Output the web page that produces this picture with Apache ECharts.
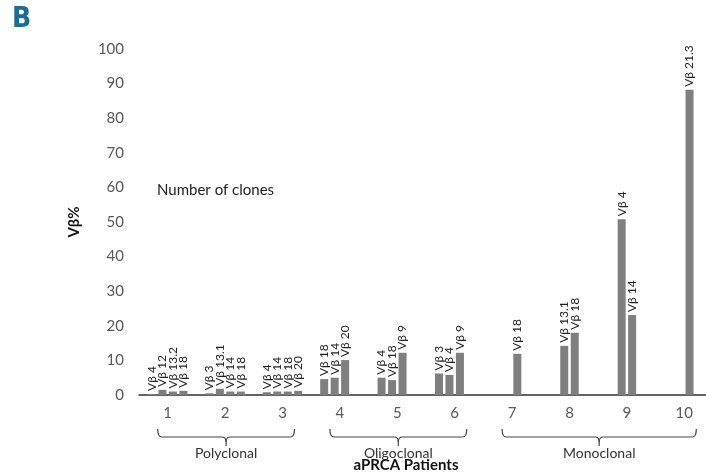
<!DOCTYPE html>
<html>
<head>
<meta charset="utf-8">
<script src="https://cdn.jsdelivr.net/npm/echarts@6/dist/echarts.min.js"></script>
<style>
html,body{margin:0;padding:0;background:#fff;}
#c{width:706px;height:473px;}
</style>
</head>
<body>
<div id="c"></div>
<script>
// Patients (categories)
const patients = ['1','2','3','4','5','6','7','8','9','10'];
// Four clustered slots per patient; null = no bar in that slot
const slot1Values = [0.3, 0.5, 0.8, 4.6, 5.0, 6.2, null, null, null, null];
const slot1Names  = ['Vβ 4','Vβ 3','Vβ 4','Vβ 18','Vβ 4','Vβ 3', null, null, null, null];
const slot2Values = [1.5, 1.8, 1.0, 5.0, 4.3, 5.8, null, 14.2, 50.8, null];
const slot2Names  = ['Vβ 12','Vβ 13.1','Vβ 14','Vβ 14','Vβ 18','Vβ 4', null, 'Vβ 13.1','Vβ 4', null];
const slot3Values = [1.0, 1.0, 1.0, 10.1, 12.2, 12.2, 11.9, 18.0, 23.1, 88.2];
const slot3Names  = ['Vβ 13.2','Vβ 14','Vβ 18','Vβ 20','Vβ 9','Vβ 9','Vβ 18','Vβ 18','Vβ 14','Vβ 21.3'];
const slot4Values = [1.2, 1.0, 1.2, null, null, null, null, null, null, null];
const slot4Names  = ['Vβ 18','Vβ 18','Vβ 20', null, null, null, null, null, null, null];
// Groups of patients
const groupNames = ['Polyclonal','Oligoclonal','Monoclonal'];
const groupFirst = [0, 3, 6];
const groupLast  = [2, 5, 9];
const yTicks = [0, 100, 10]; // min, max, interval

const FONT = 'Lato, "Open Sans", sans-serif';
const chart = echarts.init(document.getElementById('c'), null, {renderer:'canvas'});

function mkSeries(values, names){
  return {
    type:'bar',
    barWidth: 8,
    barGap: '31%',
    itemStyle:{color:'#7f7f7f'},
    data: values.map((v,i)=> v==null ? null : {value:v, name:names[i]}),
    label:{
      show:true, position:'top', rotate:90, align:'left', verticalAlign:'middle',
      distance:3, fontSize:12, fontFamily:FONT, color:'#222',
      formatter: p => p.data && p.data.name ? p.data.name : ''
    },
    animation:false
  };
}

chart.setOption({
  animation:false,
  grid:{left:139, top:49, width:574, height:346, containLabel:false, outerBoundsMode:'none'},
  xAxis:{
    type:'category', data:patients,
    axisLine:{lineStyle:{color:'#333', width:1.5}},
    axisTick:{show:false},
    axisLabel:{fontSize:15, fontFamily:FONT, color:'#595959', margin:11}
  },
  yAxis:{
    type:'value', min:yTicks[0], max:yTicks[1], interval:yTicks[2],
    splitLine:{show:false}, axisLine:{show:false}, axisTick:{show:false},
    axisLabel:{fontSize:15, fontFamily:FONT, color:'#595959', margin:15},
    name:'Vβ%', nameLocation:'middle', nameGap:57, nameRotate:90,
    nameTextStyle:{fontSize:15, fontWeight:'bold', fontFamily:FONT, color:'#111'}
  },
  series:[
    mkSeries(slot1Values, slot1Names),
    mkSeries(slot2Values, slot2Names),
    mkSeries(slot3Values, slot3Names),
    mkSeries(slot4Values, slot4Names)
  ]
});

// Braces and annotation texts placed from axis coordinates
const elements = [];
const yTop = 428, yMid = 437, yTip = 446;
const stroke = {stroke:'#444', lineWidth:1.2, fill:null};
groupNames.forEach((g,i)=>{
  const xa = chart.convertToPixel({xAxisIndex:0}, patients[groupFirst[i]]) - 10;
  const xb = chart.convertToPixel({xAxisIndex:0}, patients[groupLast[i]]) + 12;
  const xc = (xa+xb)/2;
  const r = 4;
  const curves = [
    [xa, yTop+1, xa+r, yMid, xa, yMid],
    [xc-r, yMid, xc, yTip-4, xc, yMid],
    [xc+r, yMid, xc, yTip-4, xc, yMid],
    [xb, yTop+1, xb-r, yMid, xb, yMid]
  ];
  curves.forEach(c=>elements.push({type:'bezierCurve', shape:{x1:c[0],y1:c[1],x2:c[2],y2:c[3],cpx1:c[4],cpy1:c[5]}, style:stroke, silent:true}));
  elements.push({type:'line', shape:{x1:xa+r, y1:yMid, x2:xc-r, y2:yMid}, style:stroke, silent:true});
  elements.push({type:'line', shape:{x1:xc+r, y1:yMid, x2:xb-r, y2:yMid}, style:stroke, silent:true});
  elements.push({type:'line', shape:{x1:xc, y1:yTip-4, x2:xc, y2:yTip}, style:stroke, silent:true});
  elements.push({type:'text', x:xc, y:453, style:{text:g, font:`14px ${FONT}`, fill:'#333', textAlign:'center', textVerticalAlign:'middle'}});
});
elements.push({type:'text', x:406, y:465, style:{text:'aPRCA Patients', font:`bold 15px ${FONT}`, fill:'#111', textAlign:'center', textVerticalAlign:'middle'}});
elements.push({type:'text', x:157, y:190, style:{text:'Number of clones', font:`15px ${FONT}`, fill:'#222', textAlign:'left', textVerticalAlign:'middle'}});
elements.push({type:'text', x:12, y:20, style:{text:'B', font:`bold 28px "DejaVu Sans Condensed", "DejaVu Sans", sans-serif`, fill:'#1b6c98', textAlign:'left', textVerticalAlign:'middle'}});
chart.setOption({graphic:{elements}});
</script>
</body>
</html>
